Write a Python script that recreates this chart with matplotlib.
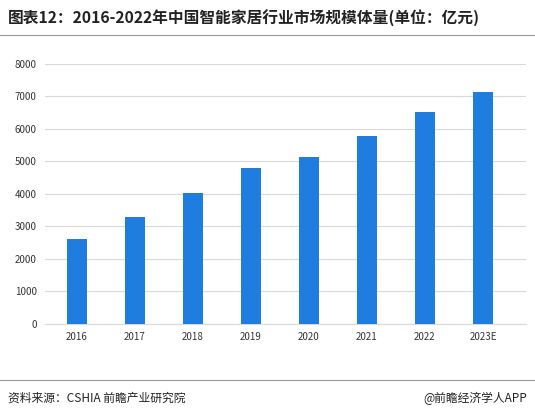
import matplotlib
matplotlib.use("Agg")
import matplotlib.pyplot as plt

plt.rcParams['font.family'] = ['Noto Sans CJK SC', 'DejaVu Sans']

years = ["2016", "2017", "2018", "2019", "2020", "2021", "2022", "2023E"]
values = [2610, 3290, 4010, 4810, 5140, 5790, 6520, 7140]
yticks = list(range(0, 8001, 1000))

fig = plt.figure(figsize=(5.35, 4.15), dpi=100)
ax = fig.add_axes([0.084, 0.22, 0.9, 0.626])
ax.bar(years, values, width=0.35, color="#1F7DE0", zorder=3)
ax.set_ylim(0, 8000)
ax.set_yticks(yticks)
ax.grid(axis="y", color="#d9d9d9", linewidth=0.8, zorder=0)
ax.set_xlim(-0.55, 7.75)
for s in ["top", "right", "left"]:
    ax.spines[s].set_visible(False)
ax.spines["bottom"].set_color("#d9d9d9")
ax.tick_params(axis="both", length=0, labelsize=7, colors="#333333", pad=6)

fig.text(0.015, 0.955, "图表12：2016-2022年中国智能家居行业市场规模体量(单位：亿元)",
         fontsize=11.3, fontweight="bold", color="#222222", va="center")
fig.add_artist(plt.Line2D([0.0, 1.0], [0.915, 0.915], color="#999999", linewidth=0.8))
fig.add_artist(plt.Line2D([0.0, 1.0], [0.085, 0.085], color="#999999", linewidth=0.8))
fig.text(0.015, 0.04, "资料来源：CSHIA 前瞻产业研究院", fontsize=8.5, color="#222222", va="center")
fig.text(0.985, 0.04, "@前瞻经济学人APP", fontsize=8.5, color="#222222", va="center", ha="right")

fig.savefig("out.png", dpi=100)
